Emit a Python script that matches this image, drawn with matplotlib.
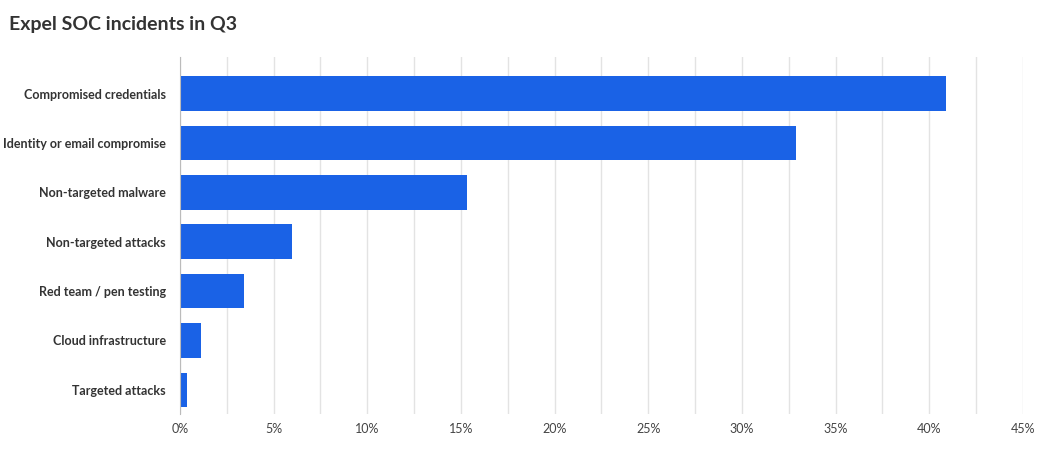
"""Expel SOC incidents in Q3 horizontal bar chart."""

import matplotlib

matplotlib.use("Agg")
import matplotlib.pyplot as plt
import numpy as np

categories = [
    "Compromised credentials",
    "Identity or email compromise",
    "Non-targeted malware",
    "Non-targeted attacks",
    "Red team / pen testing",
    "Cloud infrastructure",
    "Targeted attacks",
]
shares = [40.9, 32.9, 15.3, 6.0, 3.4, 1.1, 0.4]
tick_values = list(range(0, 50, 5))
tick_labels = [f"{v}%" for v in tick_values]

plt.rcParams["font.family"] = ["Lato", "DejaVu Sans"]

fig = plt.figure(figsize=(10.46, 4.53), dpi=100)
ax = fig.add_axes([0.172, 0.085, 0.806, 0.79])

y = np.arange(len(categories))
ax.barh(y, shares, height=0.7, color="#1a62e6", zorder=3)
ax.set_yticks(y)
ax.set_yticklabels(categories, fontsize=9, fontweight="bold", color="#333333")
ax.invert_yaxis()
ax.set_ylim(len(categories) - 0.5 + 0.0, -0.75)

ax.set_xlim(0, 45)
ax.set_xticks(tick_values)
ax.set_xticklabels(tick_labels, fontsize=9, color="#444444")
ax.set_xticks(np.arange(2.5, 45, 5), minor=True)
ax.grid(axis="x", which="both", color="#e3e3e3", linewidth=1, zorder=0)
ax.tick_params(axis="both", which="both", length=0)
ax.tick_params(axis="y", pad=10)
ax.tick_params(axis="x", pad=6)
for side in ("top", "right", "bottom"):
    ax.spines[side].set_visible(False)
ax.spines["left"].set_color("#bbbbbb")
ax.spines["left"].set_zorder(4)

fig.text(0.009, 0.945, "Expel SOC incidents in Q3", fontsize=14, fontweight="bold",
         color="#333333", va="center")

fig.savefig("out.png", dpi=100)
